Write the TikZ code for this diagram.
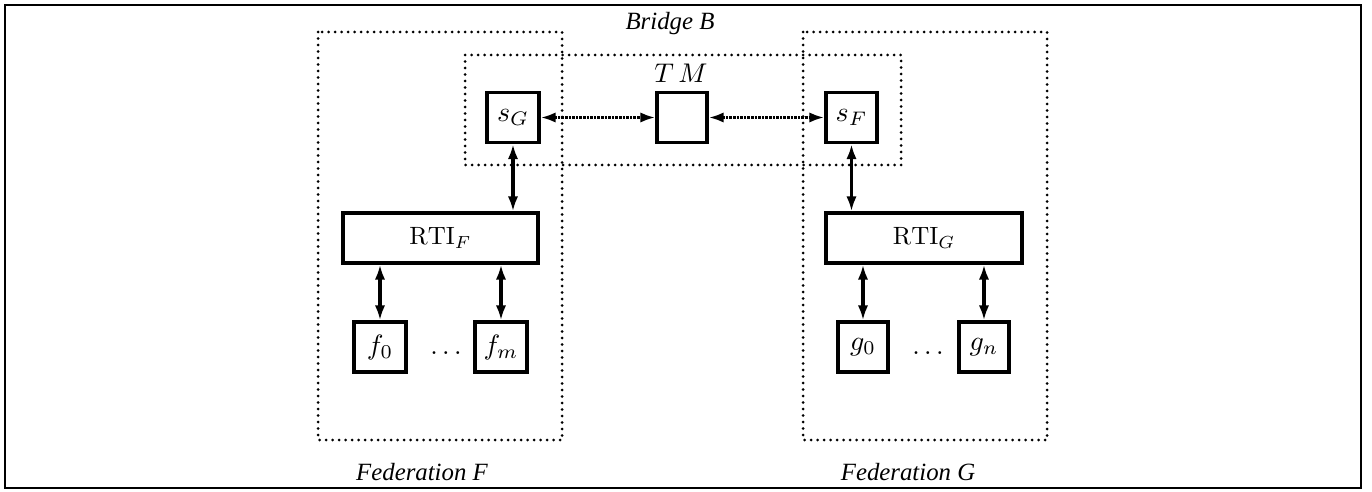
\documentclass[tikz,border=0pt]{standalone}
\usepackage{graphicx}
\usepackage{fontspec}
\newfontfamily\labfont{Liberation Serif}
\usetikzlibrary{arrows.meta}
\newcommand{\bigmath}[1]{\raisebox{-3.5pt}{\scalebox{1.4}{$#1$}}}
\newcommand{\midmath}[1]{\raisebox{-2pt}{\scalebox{1.25}{$#1$}}}
\newcommand{\fedmath}[1]{\raisebox{-2.5pt}{\scalebox{1.4}{$#1$}}}
\begin{document}
\begin{tikzpicture}[x=0.5pt,y=-0.5pt,
  box/.style={draw,line width=1.7pt,inner sep=0pt,minimum width=#1*0.5pt,minimum height=25pt},
  dotbox/.style={line width=1.5pt,line cap=round,dash pattern=on 0pt off 3.25pt},
  solidarrow/.style={line width=1.6pt,{Latex[length=7.5pt,width=5.2pt]}-{Latex[length=7.5pt,width=5.2pt]}},
  dotarrow/.style={line width=1.6pt,dash pattern=on 1.3pt off 0.5pt,{Latex[length=7.5pt,width=5.2pt]}-{Latex[length=7.5pt,width=5.2pt]}},
  lab/.style={anchor=base,inner sep=0pt,font=\labfont\itshape\fontsize{12.4}{14}\selectfont}
]
\useasboundingbox (0,0) rectangle (1372,492);
% outer frame
\draw[line width=0.9pt] (5,5) rectangle (1361,488);
% dotted regions
\draw[dotbox] (318,32) rectangle (562,440);
\draw[dotbox] (803,32) rectangle (1047,440);
\draw[dotbox] (465,55) rectangle (901,165);
% labels
\node[lab] (lblB) at (670,30) {Bridge B};
\node[lab] (lblF) at (422,480) {Federation F};
\node[lab] (lblG) at (908,480) {Federation G};
% bridge boxes
\node[box=52] (sG) at (513,117.5) {\bigmath{s_G}};
\node[box=50] (TM) at (682,117.5) {};
\node[box=51] (sF) at (851.5,117.5) {\bigmath{s_F}};
\node[inner sep=0pt] (TMl) at (681,73) {\scalebox{1.35}{$T\,M$}};
% RTIs
\node[box=195] (RTIF) at (440.5,238) {\midmath{\mathrm{RTI}_F}};
\node[box=196] (RTIG) at (924,238) {\midmath{\mathrm{RTI}_G}};
% federates
\node[box=52] (f0) at (380,347) {\fedmath{f_0}};
\node[box=52] (fm) at (501,347) {\fedmath{f_m}};
\node[box=50] (g0) at (863,347) {\fedmath{g_0}};
\node[box=50] (gn) at (984,347) {\fedmath{g_n}};
\node[inner sep=0pt] (dF) at (446,353) {\scalebox{1.35}{$\ldots$}};
\node[inner sep=0pt] (dG) at (928,353) {\scalebox{1.35}{$\ldots$}};
% connectors
\draw[dotarrow] (sG.east) -- (TM.west);
\draw[dotarrow] (TM.east) -- (sF.west);
\draw[solidarrow] (sG.south) -- (sG.south |- RTIF.north);
\draw[solidarrow] (sF.south) -- (sF.south |- RTIG.north);
\draw[solidarrow] (f0.north |- RTIF.south) -- (f0.north);
\draw[solidarrow] (fm.north |- RTIF.south) -- (fm.north);
\draw[solidarrow] (g0.north |- RTIG.south) -- (g0.north);
\draw[solidarrow] (gn.north |- RTIG.south) -- (gn.north);
\end{tikzpicture}
\end{document}
